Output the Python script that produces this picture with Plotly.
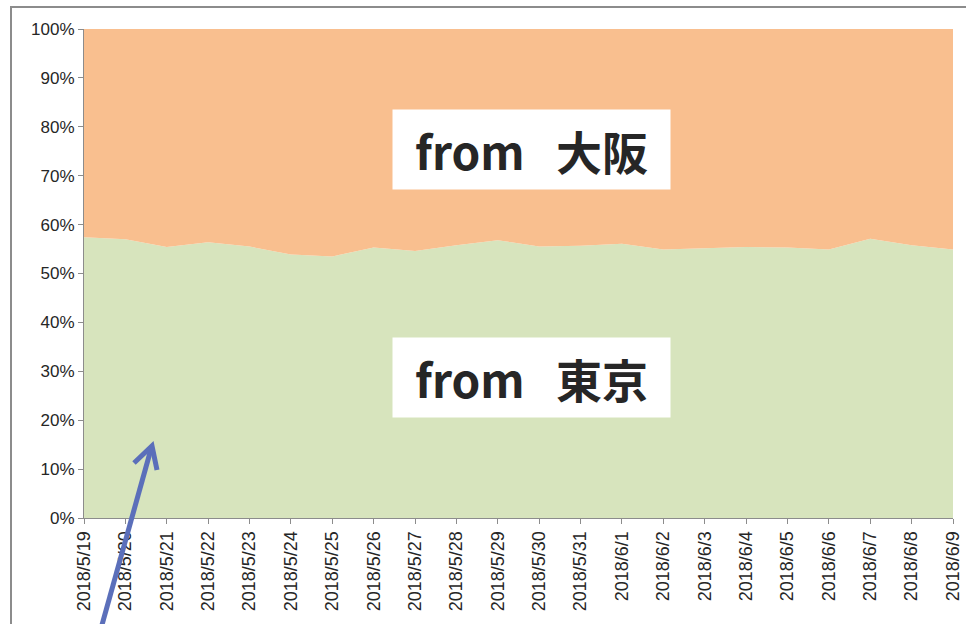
import plotly.graph_objects as go

dates = ["2018/5/19", "2018/5/20", "2018/5/21", "2018/5/22", "2018/5/23", "2018/5/24",
         "2018/5/25", "2018/5/26", "2018/5/27", "2018/5/28", "2018/5/29", "2018/5/30",
         "2018/5/31", "2018/6/1", "2018/6/2", "2018/6/3", "2018/6/4", "2018/6/5",
         "2018/6/6", "2018/6/7", "2018/6/8", "2018/6/9"]
tokyo = [57.4, 57.0, 55.4, 56.4, 55.5, 53.9, 53.5, 55.3, 54.6, 55.8, 56.8, 55.5,
         55.7, 56.1, 54.9, 55.2, 55.4, 55.3, 54.9, 57.1, 55.8, 54.9]
osaka = [42.6, 43.0, 44.6, 43.6, 44.5, 46.1, 46.5, 44.7, 45.4, 44.2, 43.2, 44.5,
         44.3, 43.9, 45.1, 44.8, 44.6, 44.7, 45.1, 42.9, 44.2, 45.1]
y_ticks = [0, 10, 20, 30, 40, 50, 60, 70, 80, 90, 100]

idx = list(range(len(dates)))

fig = go.Figure()
fig.add_trace(go.Scatter(x=idx, y=tokyo, mode="lines", stackgroup="one", groupnorm="percent",
                         line=dict(width=0, color="#D7E4BD"), fillcolor="#D7E4BD",
                         name="from 東京", hoverinfo="skip"))
fig.add_trace(go.Scatter(x=idx, y=osaka, mode="lines", stackgroup="one",
                         line=dict(width=0, color="#F9BF8F"), fillcolor="#F9BF8F",
                         name="from 大阪", hoverinfo="skip"))

# pixel -> paper helpers (plot area: x 84..953, y 29..518)
L, R, T, B = 84, 953, 29, 518
def px(x):
    return (x - L) / (R - L)
def py(y):
    return (B - y) / (B - T)

shapes = [
    # chart-area border (top and left)
    dict(type="path", xref="paper", yref="paper",
         path=f"M {px(11)} {py(640)} L {px(11)} {py(7)} L {px(970)} {py(7)}",
         line=dict(color="#8C8C8C", width=2)),
    # arrow shaft
    dict(type="path", xref="paper", yref="paper",
         path=f"M {px(100)} {py(632)} L {px(151)} {py(449)}",
         line=dict(color="#5B6FBA", width=5)),
    # arrow head (open chevron)
    dict(type="path", xref="paper", yref="paper",
         path=f"M {px(134)} {py(463)} L {px(152)} {py(446)} L {px(157)} {py(470)}",
         line=dict(color="#5B6FBA", width=5)),
]

label_font = dict(family="Noto Sans CJK JP", size=46, color="#262626")
annotations = [
    dict(x=px(531.5), y=py(149.5), xref="paper", yref="paper", text="<b>from   大阪</b>",
         showarrow=False, bgcolor="white", width=275, height=77, font=label_font,
         xanchor="center", yanchor="middle"),
    dict(x=px(531.5), y=py(377), xref="paper", yref="paper", text="<b>from   東京</b>",
         showarrow=False, bgcolor="white", width=275, height=77, font=label_font,
         xanchor="center", yanchor="middle"),
]

fig.update_layout(
    width=966, height=624,
    margin=dict(l=L, r=966 - R, t=T, b=624 - B, autoexpand=False),
    paper_bgcolor="white", plot_bgcolor="white",
    showlegend=False,
    shapes=shapes, annotations=annotations,
    xaxis=dict(range=[0, len(dates) - 1], tickmode="array", tickvals=idx, ticktext=dates,
               tickangle=-90, showgrid=False, zeroline=False, showline=True,
               linecolor="#8C8C8C", linewidth=1, ticks="outside", ticklen=5,
               tickcolor="#8C8C8C", automargin=False,
               tickfont=dict(family="Liberation Sans", size=18, color="#262626")),
    yaxis=dict(range=[0, 100], tickmode="array", tickvals=y_ticks,
               ticktext=[f"{v}%" for v in y_ticks], showgrid=False, zeroline=False,
               showline=True, linecolor="#8C8C8C", linewidth=1, ticks="outside",
               ticklen=5, tickcolor="#8C8C8C", automargin=False,
               tickfont=dict(family="Liberation Sans", size=17, color="#262626")),
)

fig.write_html("out.html")
